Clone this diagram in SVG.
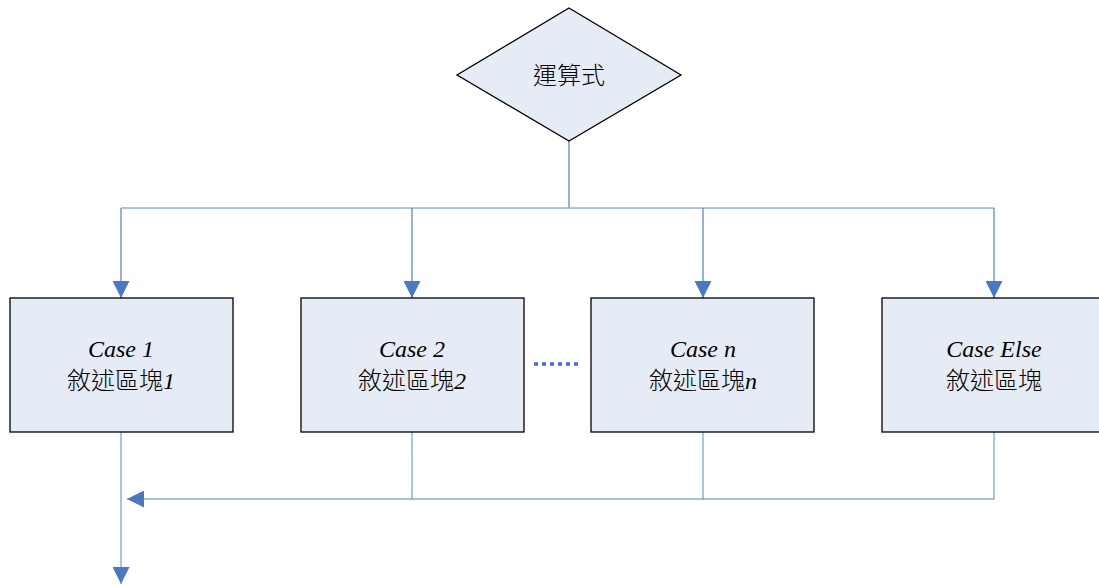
<svg xmlns="http://www.w3.org/2000/svg" width="1099" height="585" viewBox="0 0 1099 585">
<style>
.shape{fill:#e6ecf6;stroke:#000;stroke-width:1.3}
.lat{font-family:"Liberation Serif",serif;font-style:italic;font-size:24px;fill:#000}
.cjk{font-family:"Liberation Serif","Noto Sans CJK TC",serif;font-size:24px;font-weight:300;fill:#000}
.c1{fill:none;stroke:#4f81bd;stroke-width:1.2}
.c2{fill:none;stroke:#8eb0dc;stroke-width:1.5}
.dots{fill:none;stroke:#3a6cf0;stroke-width:3.5;stroke-dasharray:4 4}
</style>
<defs>
<marker id="ah" viewBox="0 0 10 10" refX="10" refY="5" markerWidth="17" markerHeight="17" markerUnits="userSpaceOnUse" orient="auto">
<path d="M0,0 L10,5 L0,10 Z" fill="#4a78c2"/>
</marker>
</defs>
<rect width="1099" height="585" fill="#fff"/>
<g id="connectors">
<line class="c1" x1="569" y1="141" x2="569" y2="208"/>
<line class="c2" x1="121" y1="208" x2="994" y2="208"/>
<line class="c1" x1="121" y1="208" x2="121" y2="298" marker-end="url(#ah)"/>
<line class="c1" x1="412" y1="208" x2="412" y2="298" marker-end="url(#ah)"/>
<line class="c1" x1="703" y1="208" x2="703" y2="298" marker-end="url(#ah)"/>
<line class="c1" x1="994" y1="208" x2="994" y2="298" marker-end="url(#ah)"/>
<line class="c2" x1="412" y1="432" x2="412" y2="499"/>
<line class="c2" x1="703" y1="432" x2="703" y2="499"/>
<line class="c2" x1="994" y1="432" x2="994" y2="499"/>
<line class="c1" x1="994" y1="499" x2="127" y2="499" marker-end="url(#ah)"/>
<line class="c2" x1="121" y1="432" x2="121" y2="584" marker-end="url(#ah)"/>
</g>
<g id="decision">
<polygon class="shape" points="569,8 681,75 569,141 457,75"/>
<text class="cjk" x="569" y="84" text-anchor="middle">運算式</text>
</g>
<g id="case1">
<rect class="shape" x="10" y="298" width="223" height="134"/>
<text class="lat" x="121" y="357" text-anchor="middle">Case 1</text>
<text class="cjk" x="121" y="389" text-anchor="middle">敘述區塊<tspan font-style="italic" font-weight="400">1</tspan></text>
</g>
<g id="case2">
<rect class="shape" x="301" y="298" width="223" height="134"/>
<text class="lat" x="412" y="357" text-anchor="middle">Case 2</text>
<text class="cjk" x="412" y="389" text-anchor="middle">敘述區塊<tspan font-style="italic" font-weight="400">2</tspan></text>
</g>
<g id="ellipsis">
<line class="dots" x1="534" y1="364" x2="580" y2="364"/>
</g>
<g id="casen">
<rect class="shape" x="591" y="298" width="223" height="134"/>
<text class="lat" x="703" y="357" text-anchor="middle">Case n</text>
<text class="cjk" x="703" y="389" text-anchor="middle">敘述區塊<tspan font-style="italic" font-weight="400">n</tspan></text>
</g>
<g id="caseelse">
<rect class="shape" x="882" y="298" width="225" height="134"/>
<text class="lat" x="994" y="357" text-anchor="middle">Case Else</text>
<text class="cjk" x="994" y="389" text-anchor="middle">敘述區塊</text>
</g>
</svg>
